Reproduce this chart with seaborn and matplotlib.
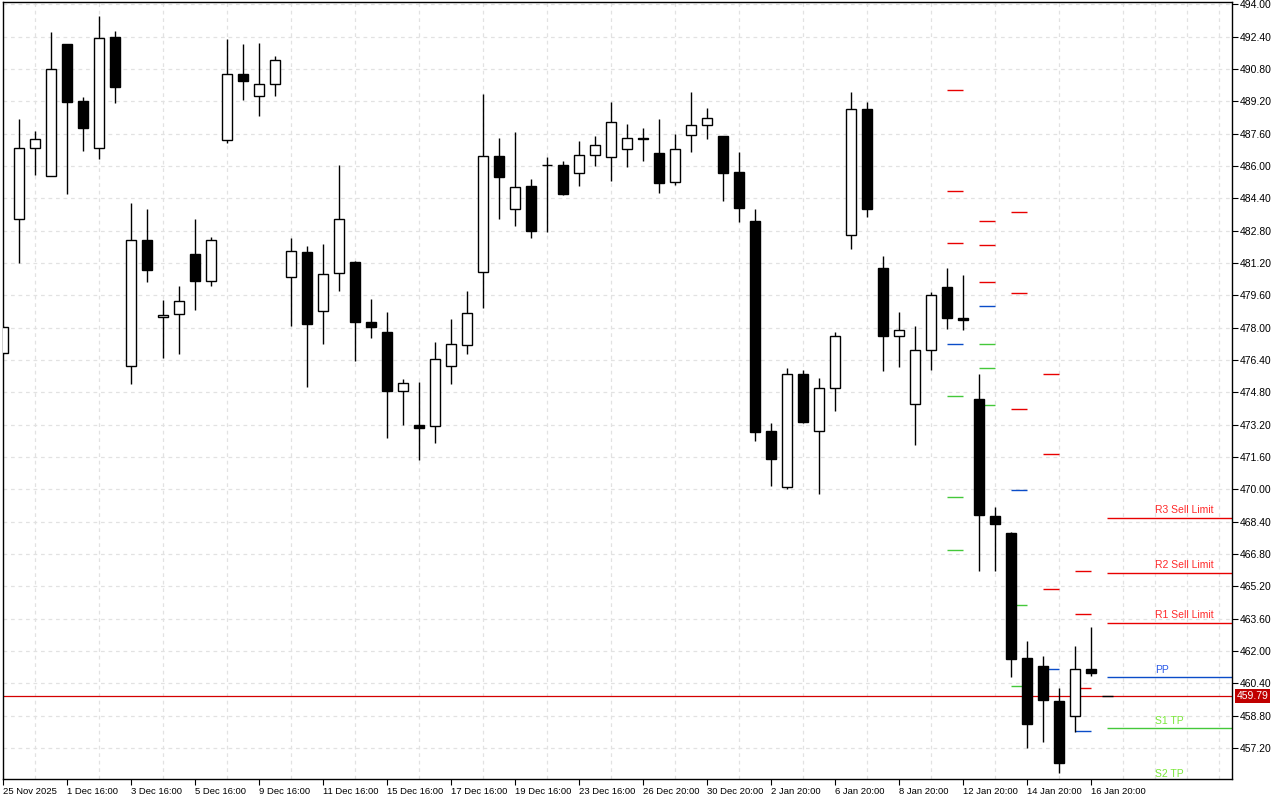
import matplotlib
matplotlib.use("Agg")
import matplotlib.pyplot as plt
import matplotlib.transforms as mtrans
from matplotlib.ticker import MultipleLocator
import seaborn as sns

sns.set_theme(style="white")
plt.rcParams['font.family'] = ['Liberation Sans', 'DejaVu Sans']

# ---- candles (OHLC) ----
opens = [476.76, 483.39, 486.91, 485.52, 492.02, 489.20, 486.91, 492.40, 476.11, 482.35,
         478.54, 478.69, 481.66, 480.32, 487.30, 490.57, 489.48, 490.07, 480.52, 481.76,
         478.84, 480.72, 481.26, 478.29, 477.81, 474.86, 473.21, 473.14, 476.09, 477.15,
         480.77, 486.51, 483.89, 485.02, 486.05, 486.06, 485.67, 486.56, 486.46, 486.86,
         487.40, 486.66, 485.22, 487.55, 488.04, 487.47, 485.72, 483.26, 472.90, 470.12,
         475.72, 472.90, 475.02, 482.60, 488.84, 480.93, 477.60, 474.23, 476.91, 479.99,
         478.49, 474.45, 468.70, 467.86, 461.67, 461.26, 459.54, 458.79, 461.11]
highs = [478.10, 488.31, 487.71, 492.61, 492.05, 489.40, 493.41, 492.66, 484.15, 483.85,
         479.35, 480.04, 483.36, 482.47, 492.27, 492.02, 492.07, 491.43, 482.42, 482.02,
         482.12, 486.03, 481.30, 479.40, 478.80, 475.44, 475.29, 477.27, 478.41, 479.84,
         489.58, 487.37, 487.70, 485.37, 486.46, 486.26, 487.22, 487.47, 489.15, 488.06,
         487.86, 488.31, 487.56, 489.64, 488.85, 487.50, 486.67, 483.85, 473.29, 476.03,
         475.93, 475.53, 477.81, 489.64, 489.15, 481.57, 478.80, 478.06, 479.79, 480.93,
         480.63, 475.72, 469.15, 467.90, 462.51, 461.77, 460.19, 462.27, 463.21]
lows = [476.70, 481.19, 485.55, 485.50, 484.61, 486.74, 486.34, 489.11, 475.20, 480.25,
        476.49, 476.69, 478.87, 480.05, 487.13, 489.26, 488.47, 489.46, 478.07, 475.05,
        477.18, 479.81, 476.34, 477.48, 472.53, 473.17, 471.43, 472.28, 475.20, 476.69,
        478.99, 483.37, 483.02, 482.43, 482.75, 484.56, 485.00, 486.00, 485.25, 485.95,
        486.24, 484.66, 485.05, 486.69, 487.33, 484.26, 483.22, 472.38, 470.15, 470.01,
        473.30, 469.76, 473.87, 481.91, 483.47, 475.85, 476.04, 472.20, 475.92, 477.95,
        477.90, 465.98, 465.98, 460.70, 457.18, 457.51, 455.95, 457.98, 460.75]
closes = [478.04, 486.91, 487.35, 490.82, 489.16, 487.88, 492.35, 489.91, 482.35, 480.85,
          478.64, 479.33, 480.30, 482.35, 490.57, 490.22, 490.07, 491.26, 481.81, 478.19,
          480.67, 483.39, 478.27, 478.02, 474.86, 475.27, 473.03, 476.43, 477.20, 478.74,
          486.51, 485.45, 484.98, 482.80, 486.03, 484.61, 486.56, 487.05, 488.19, 487.40,
          487.36, 485.15, 486.86, 488.04, 488.39, 485.65, 483.92, 472.83, 471.49, 475.72,
          473.32, 475.02, 477.60, 488.84, 483.87, 477.60, 477.91, 476.91, 479.63, 478.47,
          478.39, 468.72, 468.27, 461.59, 458.37, 459.56, 456.44, 461.11, 460.92]

tick_idx = list(range(0, 69, 4))
tick_labels = ['25 Nov 2025', '1 Dec 16:00', '3 Dec 16:00', '5 Dec 16:00', '9 Dec 16:00',
               '11 Dec 16:00', '15 Dec 16:00', '17 Dec 16:00', '19 Dec 16:00', '23 Dec 16:00',
               '26 Dec 20:00', '30 Dec 20:00', '2 Jan 20:00', '6 Jan 20:00', '8 Jan 20:00',
               '12 Jan 20:00', '14 Jan 20:00', '16 Jan 20:00']

# ---- earlier daily pivots (short segments) ----
hist_start = [59, 61, 63, 65, 67]
hist_res = [[489.78, 484.78, 482.20], [483.29, 482.10, 480.27], [483.74, 479.73, 474.00],
            [475.72, 471.76, 465.07], [465.96, 463.84, 460.17]]
hist_pp = [477.20, 479.08, 469.97, 461.11, 458.04]
hist_sup = [[474.63, 469.63, 467.00], [477.20, 476.01, 474.18], [464.30, 460.27], [], []]

# ---- current pivot levels ----
level_names = ['R3 Sell Limit', 'R2 Sell Limit', 'R1 Sell Limit', 'PP', 'S1 TP', 'S2 TP']
level_values = [468.60, 465.87, 463.41, 460.72, 458.19, 455.55]
current_price = 459.79

RED = '#e80000'
BLUE = '#0a4cc8'
GREEN = '#44c83a'
line_cols = [RED, RED, RED, BLUE, GREEN, GREEN]
text_cols = ['#ff2a2a', '#ff2a2a', '#ff2a2a', '#2a5ae8', '#7ae83a', '#7ae83a']

fig = plt.figure(figsize=(12.8, 8), dpi=100)
ax = fig.add_axes([2.7 / 1280, 21 / 800, 1229.6 / 1280, 776.7 / 800])
ax.set_facecolor('white')

x = list(range(len(opens)))
up = [c >= o for o, c in zip(opens, closes)]
bottoms = [min(o, c) for o, c in zip(opens, closes)]
heights = [abs(c - o) for o, c in zip(opens, closes)]
faces = ['white' if u else 'black' for u in up]

# wicks and bodies
ax.vlines(x, lows, highs, color='black', lw=1.0, zorder=3)
ax.bar(x, heights, bottom=bottoms, width=0.62, color=faces, edgecolor='black',
       linewidth=1.0, zorder=4)

# older pivot segments
for s, r, p, sp in zip(hist_start, hist_res, hist_pp, hist_sup):
    if r:
        ax.hlines(r, s, s + 1, colors=RED, lw=1.0, zorder=2)
    ax.hlines(p, s, s + 1, colors=BLUE, lw=1.0, zorder=2)
    if sp:
        ax.hlines(sp, s, s + 1, colors=GREEN, lw=1.0, zorder=2)

# today's pivots
ax.hlines(level_values, 69.0, 77.5, colors=line_cols, lw=1.0, zorder=2)
for name, v, c in zip(level_names, level_values, text_cols):
    ax.text(72.0, v + 0.12, name, color=c, fontsize=7.5, ha='left', va='bottom')

# current price line + label
ax.axhline(current_price, color='#d40000', lw=0.9, zorder=1)
ax.hlines(current_price, 68.7, 69.4, colors='black', lw=1.0, zorder=2)
trans = mtrans.blended_transform_factory(ax.transAxes, ax.transData)
ax.text(1.0035, current_price, f'{current_price:.2f}', transform=trans, color='white',
        fontsize=7.5, ha='left', va='center',
        bbox=dict(boxstyle='square,pad=0.18', fc='#c00000', ec='none'))

# axes
ax.set_xlim(-0.02, 76.85)
ax.set_ylim(455.67, 494.10)
yt = [457.2 + 1.6 * k for k in range(24)]
ax.set_yticks(yt)
ax.set_yticklabels([f'{v:.2f}' for v in yt])
ax.yaxis.tick_right()
ax.tick_params(axis='y', which='major', right=True, left=False, labelright=True,
               labelleft=False, direction='out', length=4, width=0.8, pad=1.5,
               labelsize=7.5, colors='black')
ax.set_xticks(tick_idx)
ax.set_xticklabels(tick_labels, ha='left')
ax.xaxis.set_minor_locator(MultipleLocator(2))
ax.tick_params(axis='x', which='major', bottom=True, direction='out', length=4,
               width=0.8, pad=1.5, labelsize=6.8, colors='black')
ax.tick_params(axis='x', which='minor', bottom=False, length=0)

ax.set_axisbelow(True)
ax.yaxis.grid(True, which='major', color='#e2e2e2', lw=0.9, ls=(0, (3, 3)))
ax.xaxis.grid(True, which='minor', color='#e2e2e2', lw=0.9, ls=(0, (3, 3)))
ax.xaxis.grid(False, which='major')

for sp in ax.spines.values():
    sp.set_visible(True)
    sp.set_color('black')
    sp.set_linewidth(1.0)

fig.savefig('out.png', dpi=100, facecolor='white')
